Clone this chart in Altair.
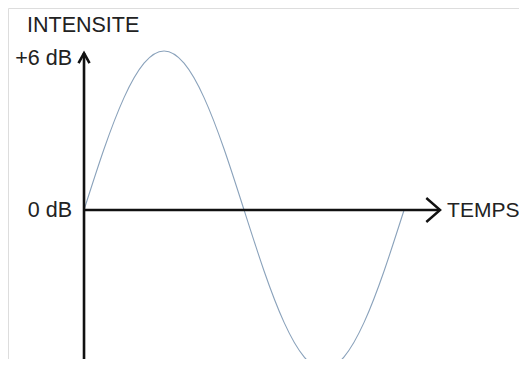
import altair as alt
import pandas as pd

# Sine-like intensity curve (time as fraction of the cycle, intensity in dB)
temps = [0.0, 0.0625, 0.125, 0.1875, 0.25, 0.3125, 0.375, 0.4375, 0.5,
         0.5625, 0.625, 0.6875, 0.75, 0.8125, 0.875, 0.9375, 1.0]
intensite = [0.0, 2.3, 4.24, 5.54, 6.0, 5.54, 4.24, 2.3, 0.0,
             -2.3, -4.24, -5.54, -6.0, -5.54, -4.24, -2.3, 0.0]

# Axis labels
y_tick_values = [6, 0]
y_tick_labels = ["+6 dB", "0 dB"]
y_title = "INTENSITE"
x_title = "TEMPS"

# Extent of the drawn axes (data units)
x_axis_end = 1.1125
y_axis_end = 5.92
y_axis_bottom = -5.6226

X_DOMAIN = [-0.2375, 1.359]
Y_DOMAIN = [-5.6226, 7.6226]

xs = alt.Scale(domain=X_DOMAIN, nice=False, zero=False)
ys = alt.Scale(domain=Y_DOMAIN, nice=False, zero=False)

curve_df = pd.DataFrame({"t": temps, "v": intensite})
curve = alt.Chart(curve_df).mark_line(
    color="#8aa2bb", strokeWidth=1.1, interpolate="natural", clip=True
).encode(
    x=alt.X("t:Q", scale=xs, axis=None),
    y=alt.Y("v:Q", scale=ys, axis=None),
)

vaxis = alt.Chart(pd.DataFrame({"t": [0], "v": [y_axis_bottom], "v2": [y_axis_end]})).mark_rule(
    color="#111", strokeWidth=2.6
).encode(x=alt.X("t:Q", scale=xs), y=alt.Y("v:Q", scale=ys), y2="v2:Q")

haxis = alt.Chart(pd.DataFrame({"t": [0], "t2": [x_axis_end], "v": [0]})).mark_rule(
    color="#111", strokeWidth=2.6
).encode(x=alt.X("t:Q", scale=xs), x2="t2:Q", y=alt.Y("v:Q", scale=ys))

varrow = alt.Chart(pd.DataFrame({"t": [0], "v": [y_axis_end]})).mark_point(
    shape="M-0.55,1 L0,0 L0.55,1", filled=False, stroke="#111", strokeWidth=2.6,
    size=400, opacity=1
).encode(x=alt.X("t:Q", scale=xs), y=alt.Y("v:Q", scale=ys))

harrow = alt.Chart(pd.DataFrame({"t": [x_axis_end], "v": [0]})).mark_point(
    shape="M-1,1.15 L0,0 L1,1.15", filled=False, stroke="#111", strokeWidth=2.4,
    size=576, angle=90, opacity=1
).encode(x=alt.X("t:Q", scale=xs), y=alt.Y("v:Q", scale=ys))

font = "Liberation Sans"
FS = 21.5
tick_df = pd.DataFrame({"t": [0, 0], "v": y_tick_values, "label": y_tick_labels})
ticks6 = alt.Chart(tick_df.iloc[[0]]).mark_text(
    align="right", baseline="alphabetic", dx=-12, dy=14, font=font, fontSize=FS, color="#222"
).encode(x=alt.X("t:Q", scale=xs), y=alt.Y("v:Q", scale=ys), text="label:N")
ticks0 = alt.Chart(tick_df.iloc[[1]]).mark_text(
    align="right", baseline="alphabetic", dx=-12, dy=7, font=font, fontSize=FS, color="#222"
).encode(x=alt.X("t:Q", scale=xs), y=alt.Y("v:Q", scale=ys), text="label:N")

ytitle = alt.Chart(pd.DataFrame({"t": [0], "v": [6], "label": [y_title]})).mark_text(
    align="left", baseline="alphabetic", dx=-57, dy=-19, font=font, fontSize=FS, color="#222"
).encode(x=alt.X("t:Q", scale=xs), y=alt.Y("v:Q", scale=ys), text="label:N")

xtitle = alt.Chart(pd.DataFrame({"t": [x_axis_end], "v": [0], "label": [x_title]})).mark_text(
    align="left", baseline="alphabetic", dx=7, dy=7, font=font, fontSize=21, color="#222"
).encode(x=alt.X("t:Q", scale=xs), y=alt.Y("v:Q", scale=ys), text="label:N")

chart = alt.layer(curve, vaxis, haxis, varrow, harrow, ticks6, ticks0, ytitle, xtitle).properties(
    width=511, height=351, padding=0, autosize=alt.AutoSizeParams(type="none")
).configure_view(stroke="transparent", strokeWidth=0).configure(background="white")

chart.save("out.html", embed_options={"renderer": "svg", "actions": False})
